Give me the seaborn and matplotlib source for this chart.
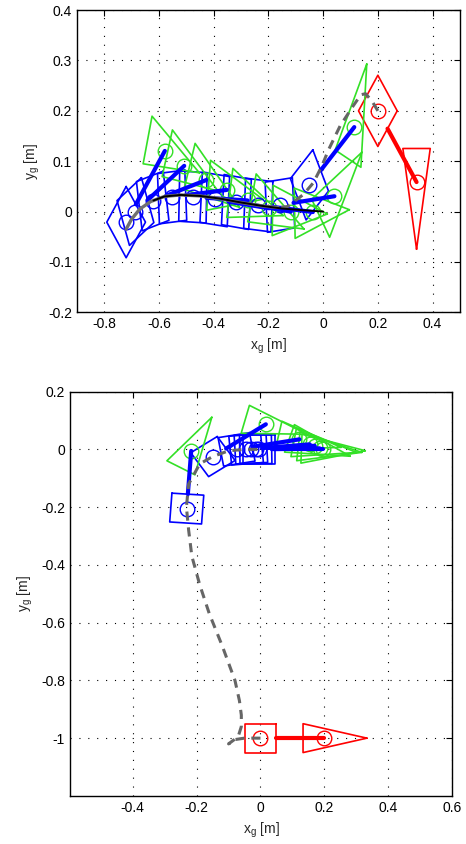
import numpy as np
import pandas as pd
import matplotlib
matplotlib.use('Agg')
import matplotlib.pyplot as plt
from matplotlib.ticker import FuncFormatter
import seaborn as sns

# ---------------- data ----------------
# top panel: tractor centre, hitch angle (deg) and trailer heading (deg)
top_tr_x = [-0.72, -0.686, -0.623, -0.552, -0.476, -0.396, -0.317, -0.237, -0.158, -0.05]
top_tr_y = [-0.021, 0.0, 0.021, 0.029, 0.029, 0.024, 0.019, 0.013, 0.013, 0.053]
top_hitch = [45, 27, 12, 4, -2, -5, -5.5, -4, 5, 35]
top_trailer = [-19, -22, -24, -8, -13, -18, -2, 2, 41, 70]
top_start = [0.2, 0.2, -45, -90]   # x, y, hitch, trailer heading

top_path_x = [0.2, 0.178, 0.155, 0.138, 0.11, 0.062, 0.02, -0.005, -0.036, -0.072, -0.13, -0.165]
top_path_y = [0.2, 0.22, 0.234, 0.232, 0.21, 0.17, 0.123, 0.09, 0.057, 0.034, 0.01, 0.008]
top_gray_x = [-0.72, -0.70, -0.67, -0.63, -0.58, -0.52, -0.45, -0.38, -0.30, -0.22, -0.165]
top_gray_y = [-0.035, -0.015, 0.005, 0.02, 0.03, 0.033, 0.031, 0.026, 0.018, 0.011, 0.008]
top_ref_x = [-0.62, -0.58, -0.52, -0.45, -0.38, -0.30, -0.22, -0.15, -0.08, 0.0]
top_ref_y = [0.022, 0.03, 0.033, 0.031, 0.026, 0.018, 0.011, 0.006, 0.003, 0.0]

# bottom panel
bot_tr_x = [-0.231, -0.149, -0.075, -0.045, -0.03, -0.015, -0.005]
bot_tr_y = [-0.205, -0.025, 0.0, 0.0, 0.002, 0.0, 0.0]
bot_hitch = [86, 34, 10, 5, 3, 1, 0]
bot_trailer = [61, -15, -12, -18, -10, -6, -2]
bot_start = [0.0, -1.0, 0, 0]

bot_path_x = [0.0, -0.05, -0.08, -0.1, -0.07, -0.06, -0.06, -0.066, -0.08, -0.12, -0.16, -0.19,
              -0.215, -0.225, -0.232, -0.225, -0.19, -0.15, -0.1, -0.05, 0.0]
bot_path_y = [-1.0, -1.0, -1.005, -1.02, -0.995, -0.96, -0.92, -0.87, -0.8, -0.68, -0.57, -0.47,
              -0.37, -0.28, -0.2, -0.12, -0.05, -0.025, -0.005, 0.0, 0.0]

LINK = 0.2     # hitch length
HALF = 0.05    # half side of the tractor square
TW = 0.05      # half base of the trailer triangle

BLUE = '#0000ff'
GREEN = '#33e026'
RED = '#ff0000'
GRAY = '#666666'


def poly_df(xs, ys, angs, local):
    rows = []
    for i, (x, y, t) in enumerate(zip(xs, ys, angs)):
        a = np.deg2rad(t)
        c, s = np.cos(a), np.sin(a)
        for px, py in local:
            rows.append((i, x + c * px - s * py, y + s * px + c * py))
    return pd.DataFrame(rows, columns=['id', 'x', 'y'])


sq_local = [(HALF, HALF), (-HALF, HALF), (-HALF, -HALF), (HALF, -HALF), (HALF, HALF)]
tri_local = [(2 * LINK / 3, 0), (-LINK / 3, TW), (-LINK / 3, -TW), (2 * LINK / 3, 0)]


def draw_rig(ax, xs, ys, hitch, trail, c_tr, c_tl, c_link, lw=1.2):
    xs = np.asarray(xs, float)
    ys = np.asarray(ys, float)
    h = np.deg2rad(hitch)
    tx = xs + LINK * np.cos(h)
    ty = ys + LINK * np.sin(h)
    sq = poly_df(xs, ys, hitch, sq_local)
    tri = poly_df(tx, ty, trail, tri_local)
    sns.lineplot(data=sq, x='x', y='y', units='id', estimator=None, sort=False,
                 color=c_tr, lw=lw, ax=ax, legend=False, zorder=3)
    sns.lineplot(data=tri, x='x', y='y', units='id', estimator=None, sort=False,
                 color=c_tl, lw=lw, ax=ax, legend=False, zorder=4)
    ax.plot(xs, ys, 'o', ms=10.5, mfc='none', mec=c_tr, mew=1.0, zorder=5)
    ax.plot(tx, ty, 'o', ms=10.5, mfc='none', mec=c_tl, mew=1.0, zorder=5)
    lk = pd.DataFrame({'id': np.repeat(np.arange(len(xs)), 2),
                       'x': np.ravel(np.column_stack([xs + HALF * np.cos(h), tx])),
                       'y': np.ravel(np.column_stack([ys + HALF * np.sin(h), ty]))})
    sns.lineplot(data=lk, x='x', y='y', units='id', estimator=None, sort=False,
                 color=c_link, lw=3, ax=ax, legend=False, zorder=6)


sns.set_style('white')
plt.rcParams['font.family'] = ['Liberation Sans', 'DejaVu Sans']
plt.rcParams['mathtext.default'] = 'regular'

fig = plt.figure(figsize=(4.66, 8.44), dpi=100)
ax1 = fig.add_axes([0.165, 0.630, 0.822, 0.358])
ax2 = fig.add_axes([0.150, 0.057, 0.820, 0.479])

fmt = FuncFormatter(lambda v, p: '%g' % (round(v, 3) + 0.0))

# ---- top ----
draw_rig(ax1, top_tr_x, top_tr_y, top_hitch, top_trailer, BLUE, GREEN, BLUE)
sns.lineplot(x=top_path_x, y=top_path_y, sort=False, estimator=None, color=GRAY, lw=2.2,
             ax=ax1, zorder=7).lines[-1].set_dashes((3.0, 2.2))
sns.lineplot(x=top_gray_x, y=top_gray_y, sort=False, estimator=None, color='#707070', lw=2.4,
             ax=ax1, zorder=7)
sns.lineplot(x=top_ref_x, y=top_ref_y, sort=False, estimator=None, color='black', lw=1.4,
             ax=ax1, zorder=8)
draw_rig(ax1, [top_start[0]], [top_start[1]], [top_start[2]], [top_start[3]], RED, RED, RED)

ax1.set_xlim(-0.9, 0.5)
ax1.set_ylim(-0.2, 0.4)
ax1.set_xticks(np.arange(-0.8, 0.41, 0.2))
ax1.set_yticks(np.arange(-0.2, 0.41, 0.1))

# ---- bottom ----
draw_rig(ax2, bot_tr_x, bot_tr_y, bot_hitch, bot_trailer, BLUE, GREEN, BLUE)
sns.lineplot(x=bot_path_x, y=bot_path_y, sort=False, estimator=None, color=GRAY, lw=2.2,
             ax=ax2, zorder=7).lines[-1].set_dashes((3.0, 2.2))
draw_rig(ax2, [bot_start[0]], [bot_start[1]], [bot_start[2]], [bot_start[3]], RED, RED, RED)

ax2.set_xlim(-0.597, 0.6)
ax2.set_ylim(-1.2, 0.2)
ax2.set_xticks(np.arange(-0.4, 0.61, 0.2))
ax2.set_yticks(np.arange(-1.0, 0.21, 0.2))

for ax in (ax1, ax2):
    ax.xaxis.set_major_formatter(fmt)
    ax.yaxis.set_major_formatter(fmt)
    ax.grid(True, color='black', linestyle=(0, (1, 7)), linewidth=0.8)
    ax.tick_params(direction='in', top=True, right=True, length=4, width=0.8,
                   labelsize=10, colors='black')
    for sp in ax.spines.values():
        sp.set_color('black')
        sp.set_linewidth(1.0)
    ax.set_xlabel('x$_g$ [m]', fontsize=10)
    ax.set_ylabel('y$_g$ [m]', fontsize=10)

fig.savefig('out.png', dpi=100)
